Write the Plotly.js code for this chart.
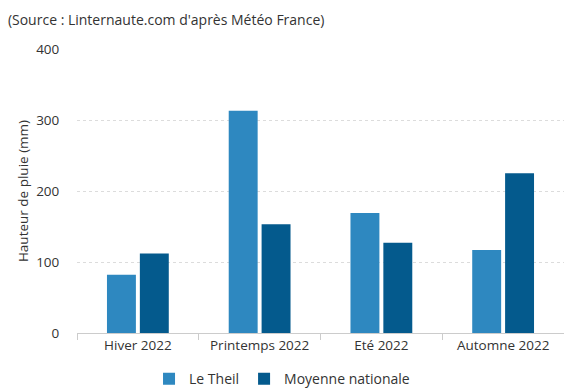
<!DOCTYPE html>
<html>
<head>
<meta charset="utf-8">
<script src="https://cdn.plot.ly/plotly-3.0.1.min.js"></script>
<style>html,body{margin:0;padding:0;background:#fff;}#chart{width:564px;height:391px;}</style>
</head>
<body>
<div id="chart"></div>
<script>
const categories = ["Hiver 2022", "Printemps 2022", "Eté 2022", "Automne 2022"];
const leTheil = [82, 313, 169, 117];
const moyenneNationale = [112, 153, 127, 225];
const seriesNames = ["Le Theil", "Moyenne nationale"];
const yTicks = [0, 100, 200, 300, 400];

const FONT = "'Open Sans', sans-serif";
const traces = [
  {type: "bar", name: seriesNames[0], x: categories, y: leTheil,
   marker: {color: "#2E88C0"}, hoverinfo: "x+y"},
  {type: "bar", name: seriesNames[1], x: categories, y: moyenneNationale,
   marker: {color: "#045A8D"}, hoverinfo: "x+y"}
];
const layout = {
  width: 564, height: 391,
  margin: {l: 77, r: 0, t: 49, b: 58},
  paper_bgcolor: "#fff", plot_bgcolor: "#fff",
  font: {family: FONT, size: 13, color: "#333"},
  title: {text: "(Source : Linternaute.com d'après Météo France)", x: 0.014, xanchor: "left",
          xref: "container", yref: "container", y: 0.949, yanchor: "middle", automargin: false,
          font: {family: FONT, size: 14, color: "#333"}},
  barmode: "group", bargap: 0.46, bargroupgap: 0.12,
  xaxis: {type: "category", showgrid: false, showline: true, linecolor: "#ccc", linewidth: 1,
          ticks: "outside", tickson: "boundaries", ticklen: 6, tickcolor: "#ccc", tickangle: 0,
          automargin: false,
          tickfont: {family: FONT, size: 13.5, color: "#333"}, fixedrange: true},
  yaxis: {range: [0, 400], tickvals: yTicks, showgrid: true, gridcolor: "#dcdcdc", griddash: "dot",
          zeroline: false, showline: false, ticks: "outside", ticklen: 14, tickcolor: "rgba(0,0,0,0)",
          automargin: false,
          tickfont: {family: FONT, size: 13.5, color: "#333"},
          title: {text: "Hauteur de pluie (mm)", standoff: 4, font: {family: FONT, size: 13.5, color: "#333"}},
          fixedrange: true},
  showlegend: true,
  legend: {orientation: "h", x: 0.421, xanchor: "center", xref: "paper",
           y: 0.03, yref: "container", yanchor: "middle",
           font: {family: FONT, size: 14, color: "#333"}, traceorder: "normal"}
};
Plotly.newPlot("chart", traces, layout, {displayModeBar: false, staticPlot: true});
</script>
</body>
</html>
